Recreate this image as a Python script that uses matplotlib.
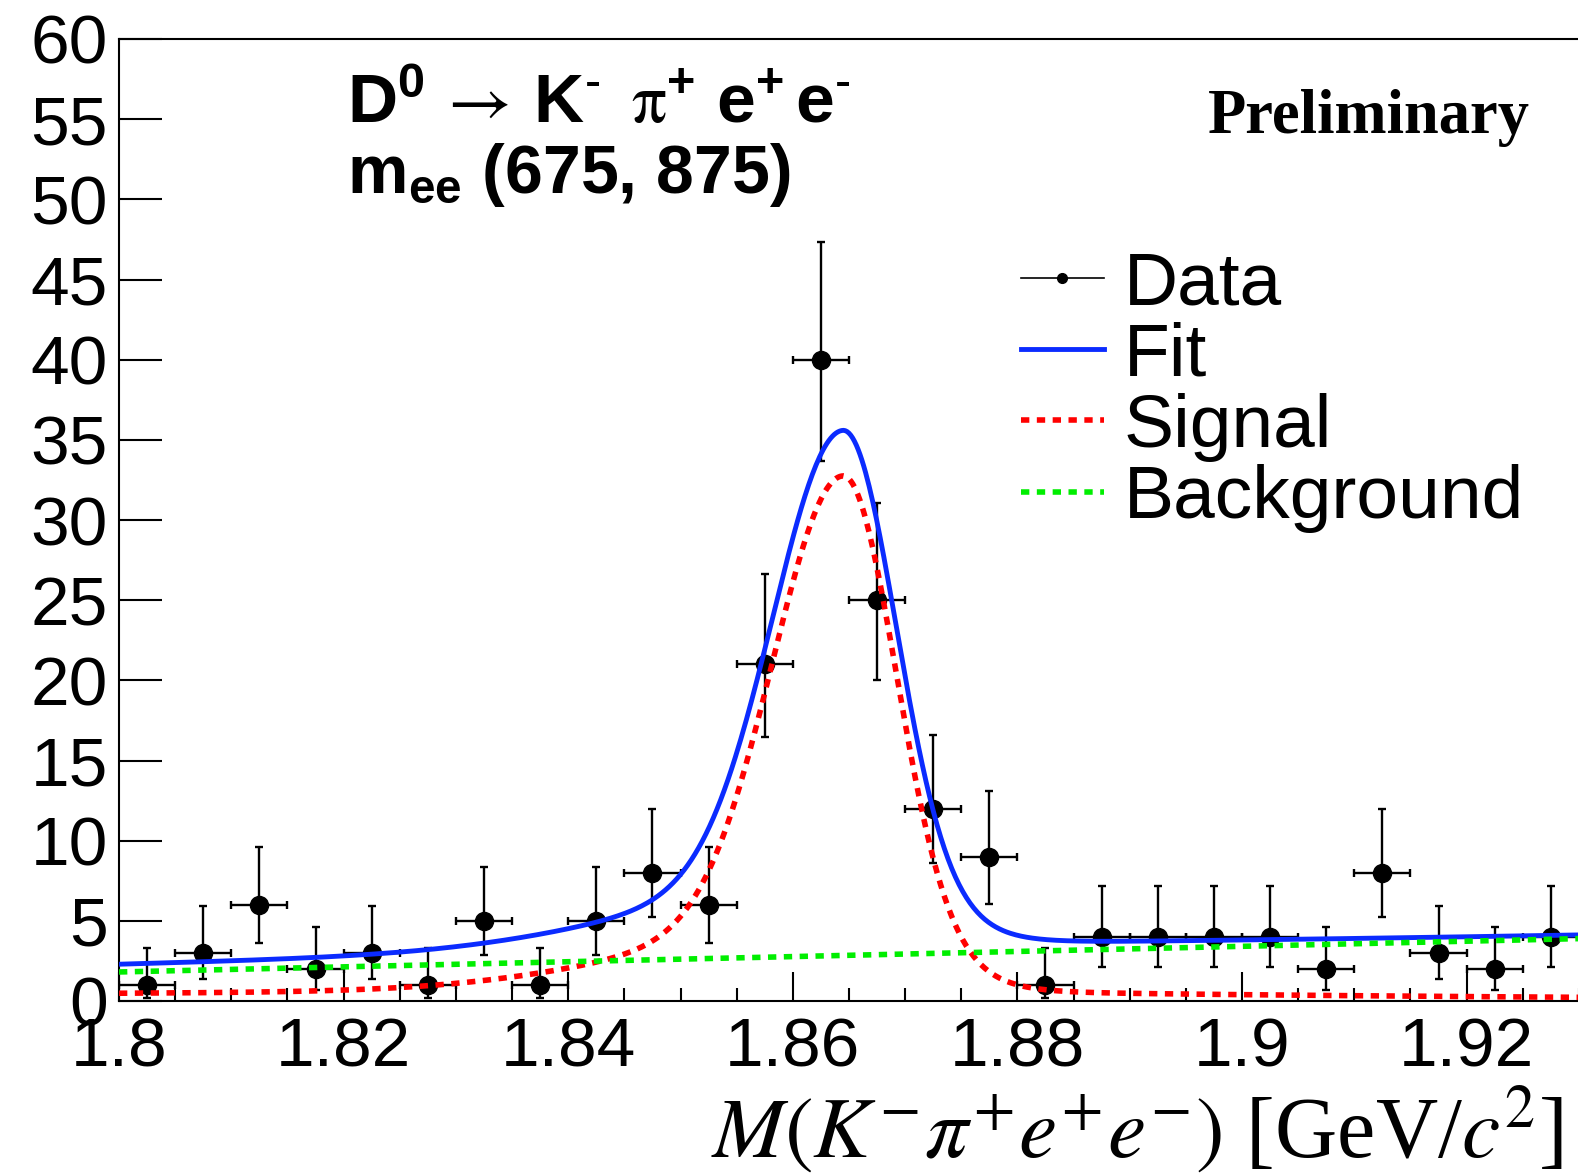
import numpy as np
import matplotlib
matplotlib.use("Agg")
from matplotlib import pyplot as plt
from matplotlib.lines import Line2D
from matplotlib.ticker import MultipleLocator, FuncFormatter

# --------- DATA ---------

# bin centres of M(K pi e e) in GeV/c^2, 5 MeV bins
mass = [1.8025, 1.8075, 1.8125, 1.8175, 1.8225, 1.8275, 1.8325, 1.8375,
        1.8425, 1.8475, 1.8525, 1.8575, 1.8625, 1.8675, 1.8725, 1.8775,
        1.8825, 1.8875, 1.8925, 1.8975, 1.9025, 1.9075, 1.9125, 1.9175,
        1.9225, 1.9275]
counts = [1, 3, 6, 2, 3, 1, 5, 1, 5, 8, 6, 21, 40, 25, 12, 9, 1, 4, 4, 4, 4, 2, 8, 3, 2, 4]
# asymmetric (Poisson) errors on each bin
err_lo = [0.83, 1.63, 2.38, 1.29, 1.63, 0.83, 2.16, 0.83, 2.16, 2.77, 2.38, 4.55, 6.30,
          4.97, 3.42, 2.94, 0.83, 1.91, 1.91, 1.91, 1.91, 1.29, 2.77, 1.63, 1.29, 1.91]
err_hi = [2.30, 2.92, 3.58, 2.64, 2.92, 2.30, 3.38, 2.30, 3.38, 3.95, 3.58, 5.66, 7.36,
          6.07, 4.56, 4.11, 2.30, 3.16, 3.16, 3.16, 3.16, 2.64, 3.95, 2.92, 2.64, 3.16]
bin_width = 0.005

# fit result: signal = core + wide component + long tail, linear background
peak_mean = 1.8645
core_amp, core_sig_lo, core_sig_hi = 28.0, 0.0062, 0.0046
wide_amp, wide_sig_lo, wide_sig_hi = 4.0, 0.017, 0.007
tail_amp, tail_len_lo, tail_len_hi = 0.75, 0.145, 0.0556
bkg_at_start, bkg_slope = 1.81, 16.0

x_lo, x_hi = 1.8, 1.9305
y_lo, y_hi = 0, 60

# ------------------------

def bifur_gauss(x, amp, s_lo, s_hi):
    s = np.where(x < peak_mean, s_lo, s_hi)
    return amp * np.exp(-0.5 * ((x - peak_mean) / s) ** 2)

def signal(x):
    l = np.where(x < peak_mean, tail_len_lo, tail_len_hi)
    tail = tail_amp * np.exp(-np.abs(x - peak_mean) / l)
    return (bifur_gauss(x, core_amp, core_sig_lo, core_sig_hi)
            + bifur_gauss(x, wide_amp, wide_sig_lo, wide_sig_hi) + tail)

def background(x):
    return bkg_at_start + bkg_slope * (x - x_lo)

plt.rcParams['font.family'] = ['Liberation Sans', 'DejaVu Sans']
plt.rcParams['mathtext.fontset'] = 'custom'
plt.rcParams['mathtext.rm'] = 'Liberation Sans'
plt.rcParams['mathtext.it'] = 'Liberation Sans:italic'
plt.rcParams['mathtext.bf'] = 'Liberation Sans:bold'
plt.rcParams['mathtext.sf'] = 'STIXGeneral'

W, H = 1578, 1174
fig = plt.figure(figsize=(W / 100, H / 100), dpi=100)
px_per_unit = 11230
ax = fig.add_axes([119 / W, (H - 1001) / H, (x_hi - x_lo) * px_per_unit / W, 962 / H])

blue = '#0b2bff'
red = '#ff0000'
green = '#00ee00'

ax.errorbar(mass, counts, xerr=bin_width / 2, yerr=[err_lo, err_hi], fmt='o',
            color='black', ms=13, elinewidth=1.7, capsize=3, capthick=1.7, zorder=2)

xs = np.linspace(x_lo, x_hi, 800)
ax.plot(xs, signal(xs) + background(xs), color=blue, lw=3.5, zorder=3)
dots = (0, (1.5, 1.35))
ax.plot(xs, signal(xs), color=red, lw=4, ls=dots, dash_capstyle='butt', zorder=4)
ax.plot(xs, background(xs), color=green, lw=4, ls=dots, dash_capstyle='butt', zorder=4)

ax.set_xlim(x_lo, x_hi)
ax.set_ylim(y_lo, y_hi)
ax.xaxis.set_major_locator(MultipleLocator(0.02))
ax.xaxis.set_minor_locator(MultipleLocator(0.005))
ax.xaxis.set_major_formatter(FuncFormatter(lambda v, p: '{0:g}'.format(round(v, 3))))
ax.yaxis.set_major_locator(MultipleLocator(5))
ax.tick_params(axis='both', which='both', direction='in', labelsize=50, width=1.5)
ax.tick_params(axis='x', which='major', length=21, pad=11)
ax.tick_params(axis='x', which='minor', length=9.5)
ax.tick_params(axis='y', which='major', length=31, pad=8)
ax.tick_params(axis='x', which='both', top=False)
for s in ('left', 'bottom', 'top'):
    ax.spines[s].set_linewidth(1.5)
ax.spines['right'].set_visible(False)

handles = [Line2D([], [], color='black', lw=1.2, marker='o', ms=7),
           Line2D([], [], color=blue, lw=3.5),
           Line2D([], [], color=red, lw=4, ls=dots, dash_capstyle='butt'),
           Line2D([], [], color=green, lw=4, ls=dots, dash_capstyle='butt')]
labels = ['Data', 'Fit', 'Signal', 'Background']
ax.legend(handles, labels, loc='upper left', bbox_to_anchor=(1021 / W, 1 - 250 / H),
          bbox_transform=fig.transFigure, frameon=False, fontsize=54,
          handlelength=1.1, handletextpad=0.27, labelspacing=0.03,
          borderpad=0, borderaxespad=0)

fig.text(347 / W, 1 - 123 / H,
         r'$\mathbf{D^{0}}\,\mathsf{\rightarrow}\,\mathbf{K^{\text{-}}}\ \,\mathsf{\pi}^{\mathbf{+}}\ \mathbf{e^{+}}\,\mathbf{e^{\text{-}}}$',
         fontsize=50, va='baseline')
fig.text(347 / W, 1 - 193 / H, r'$\mathbf{m_{ee}}$ (675, 875)',
         fontsize=49, fontweight='bold', va='baseline')
fig.text(1530 / W, 1 - 133 / H, 'Preliminary', family='Liberation Serif',
         fontweight='bold', fontsize=45, ha='right', va='baseline')
fig.text(1563 / W, 1 - 1157 / H, r'$M(K^{-}\pi^{+}e^{+}e^{-})$ [GeV/$c^{2}$]',
         family='Liberation Serif', math_fontfamily='stix', fontsize=62,
         ha='right', va='baseline')

fig.savefig('out.png', dpi=100)
